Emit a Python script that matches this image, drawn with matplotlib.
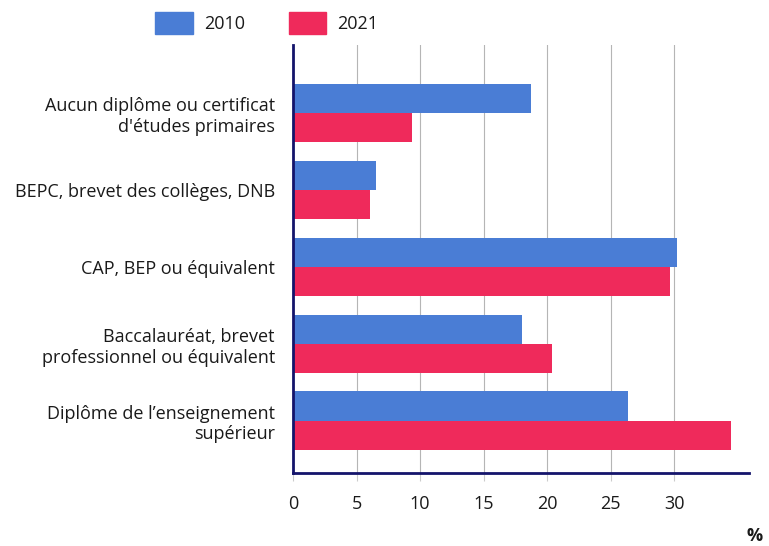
import numpy as np
import matplotlib.pyplot as plt
from matplotlib.patches import Patch

plt.rcParams['font.family'] = ['Open Sans', 'DejaVu Sans']

# Niveau de diplôme, part en %
categories = [
    "Aucun diplôme ou certificat\nd'études primaires",
    "BEPC, brevet des collèges, DNB",
    "CAP, BEP ou équivalent",
    "Baccalauréat, brevet\nprofessionnel ou équivalent",
    "Diplôme de l’enseignement\nsupérieur",
]
valeurs_2010 = [18.7, 6.5, 30.2, 18.0, 26.4]
valeurs_2021 = [9.4, 6.1, 29.7, 20.4, 34.5]
annees = ["2010", "2021"]
xticks = [0, 5, 10, 15, 20, 25, 30]

bleu = "#4a7dd5"
rouge = "#ef2a5b"
marine = "#14146b"
texte = "#1a1a1a"

fig = plt.figure(figsize=(7.69, 5.46), dpi=100)
ax = fig.add_axes([0.381, 0.134, 0.593, 0.784])

y = np.arange(len(categories))
h = 0.38
ax.barh(y - h / 2, valeurs_2010, height=h, color=bleu, zorder=3)
ax.barh(y + h / 2, valeurs_2021, height=h, color=rouge, zorder=3)

ax.set_xlim(0, 35.9)
ax.set_ylim(4.68, -0.89)
ax.set_yticks(y)
ax.set_yticklabels(categories, fontsize=13, color=texte, linespacing=1.2)
ax.tick_params(axis="y", length=0, pad=13)
ax.set_xticks(xticks)
ax.set_xticklabels([str(v) for v in xticks], fontsize=13, color=texte)
ax.tick_params(axis="x", length=6, color="#cccccc", width=0.8, pad=10)

ax.grid(axis="x", color="#b5b5b5", linewidth=0.8, zorder=0)
for s in ["top", "right"]:
    ax.spines[s].set_visible(False)
for s in ["left", "bottom"]:
    ax.spines[s].set_color(marine)
    ax.spines[s].set_linewidth(2)
    ax.spines[s].set_zorder(4)

handles = [Patch(color=bleu), Patch(color=rouge)]
fig.legend(handles, annees, loc="upper left", bbox_to_anchor=(0.181, 1.008),
           ncol=2, frameon=False, fontsize=13, handlelength=2.1,
           handleheight=1.5, handletextpad=0.6, columnspacing=2.4,
           labelcolor=texte)

fig.text(0.992, 0.002, "%", fontsize=13, fontweight="bold", color=texte,
         ha="right", va="bottom")

fig.savefig("out.png", dpi=100)
